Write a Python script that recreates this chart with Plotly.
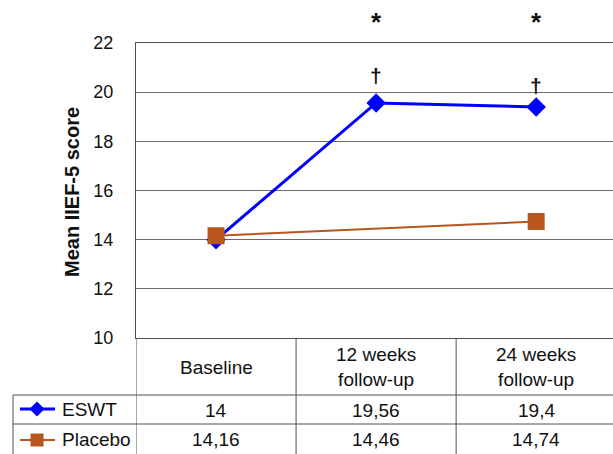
import plotly.graph_objects as go

categories = ["Baseline", "12 weeks<br>follow-up", "24 weeks<br>follow-up"]
eswt = [14, 19.56, 19.4]
placebo = [14.16, 14.46, 14.74]
placebo_marker_idx = [0, 2]
series_names = ["ESWT", "Placebo"]
y_ticks = [10, 12, 14, 16, 18, 20, 22]
stars = ["", "*", "*"]
daggers = ["", "†", "†"]

BLUE = "#0000FF"
ORANGE = "#B8561D"
GRID = "#6a6a6a"
TABLE = "#505050"
FONT = "Liberation Sans, Arial, sans-serif"

W, H = 613, 454
L, R, T, B = 136, 0, 43, 116
PW, PH = W - L - R, H - T - B


def px(x):
    return (x - L) / PW


def py(y):
    return (H - B - y) / PH


xs = list(range(len(categories)))

fig = go.Figure()
fig.add_trace(go.Scatter(
    x=xs, y=placebo, mode="lines", name=series_names[1],
    line=dict(color=ORANGE, width=2),
))
fig.add_trace(go.Scatter(
    x=xs, y=eswt, mode="lines+markers", name=series_names[0],
    line=dict(color=BLUE, width=3),
    marker=dict(symbol="diamond", size=15, color=BLUE),
))
fig.add_trace(go.Scatter(
    x=[xs[i] for i in placebo_marker_idx], y=[placebo[i] for i in placebo_marker_idx],
    mode="markers", showlegend=False,
    marker=dict(symbol="square", size=17, color=ORANGE, line=dict(width=0)),
))

shapes = []
for b in [-0.5, 0.5, 1.5]:
    shapes.append(dict(type="line", xref="x", yref="paper", x0=b, x1=b,
                       y0=0, y1=py(H + 2), line=dict(color=TABLE, width=1)))
for yy in [395, 424]:
    shapes.append(dict(type="line", xref="paper", yref="paper", x0=px(13), x1=1.0,
                       y0=py(yy), y1=py(yy), line=dict(color=TABLE, width=1)))
shapes.append(dict(type="line", xref="paper", yref="paper", x0=px(13), x1=px(13),
                   y0=py(395), y1=py(H + 2), line=dict(color=TABLE, width=1)))

shapes.append(dict(type="line", xref="paper", yref="paper", x0=px(20), x1=px(55),
                   y0=py(409), y1=py(409), line=dict(color=BLUE, width=3)))
d = 7.5
shapes.append(dict(type="path", xref="paper", yref="paper",
                   path=f"M {px(37-d)} {py(409)} L {px(37)} {py(409-d)} L {px(37+d)} {py(409)} L {px(37)} {py(409+d)} Z",
                   fillcolor=BLUE, line=dict(color=BLUE, width=0)))
shapes.append(dict(type="line", xref="paper", yref="paper", x0=px(20), x1=px(55),
                   y0=py(440), y1=py(440), line=dict(color=ORANGE, width=2)))
s = 6.5
shapes.append(dict(type="rect", xref="paper", yref="paper",
                   x0=px(37-s), x1=px(37+s), y0=py(440+s), y1=py(440-s),
                   fillcolor=ORANGE, line=dict(color=ORANGE, width=0)))

annotations = []
tf = dict(family=FONT, size=19, color="#111111")
for i, c in enumerate(categories):
    annotations.append(dict(x=i, y=py(367), xref="x", yref="paper", text=c,
                            showarrow=False, font=tf, align="center",
                            xanchor="center", yanchor="middle"))


def fmt(v):
    return f"{v:g}".replace(".", ",")


for i, v in enumerate(eswt):
    annotations.append(dict(x=i, y=py(410), xref="x", yref="paper", text=fmt(v),
                            showarrow=False, font=tf, xanchor="center", yanchor="middle"))
for i, v in enumerate(placebo):
    annotations.append(dict(x=i, y=py(440), xref="x", yref="paper", text=fmt(v),
                            showarrow=False, font=tf, xanchor="center", yanchor="middle"))
annotations.append(dict(x=px(60), y=py(409), xref="paper", yref="paper", text=series_names[0],
                        showarrow=False, font=tf, xanchor="left", yanchor="middle"))
annotations.append(dict(x=px(60), y=py(440), xref="paper", yref="paper", text=series_names[1],
                        showarrow=False, font=tf, xanchor="left", yanchor="middle"))
for i, st in enumerate(stars):
    if st:
        annotations.append(dict(x=i, y=py(22), xref="x", yref="paper", text=f"<b>{st}</b>",
                                showarrow=False, font=dict(family=FONT, size=26, color="#111111"),
                                xanchor="center", yanchor="middle"))
dag_shift = [0, 27, 21]
for i, dg in enumerate(daggers):
    if dg:
        annotations.append(dict(x=i, y=eswt[i], xref="x", yref="y", text=f"<b>{dg}</b>",
                                yshift=dag_shift[i],
                                showarrow=False, font=dict(family=FONT, size=21, color="#111111"),
                                xanchor="center", yanchor="middle"))
annotations.append(dict(x=px(72), y=py(192), xref="paper", yref="paper",
                        text="<b>Mean IIEF-5 score</b>", textangle=-90, showarrow=False,
                        font=dict(family=FONT, size=20, color="#111111"),
                        xanchor="center", yanchor="middle"))

fig.update_layout(
    width=W, height=H,
    margin=dict(l=L, r=R, t=T, b=B, pad=0),
    paper_bgcolor="white", plot_bgcolor="white",
    showlegend=False,
    shapes=shapes, annotations=annotations,
    xaxis=dict(range=[-0.5, 2.48], showgrid=False, showticklabels=False, ticks="",
               showline=True, linecolor=TABLE, linewidth=1, mirror=True, zeroline=False),
    yaxis=dict(range=[10, 22], tickvals=y_ticks, showgrid=True, gridcolor=GRID, gridwidth=1,
               showline=True, linecolor=TABLE, linewidth=1, zeroline=False, ticks="",
               ticklabelstandoff=18,
               tickfont=dict(family=FONT, size=18, color="#111111")),
)

fig.write_html("out.html", config={"displayModeBar": False},
               post_script="document.body.style.margin='0';document.body.style.overflow='hidden';")
